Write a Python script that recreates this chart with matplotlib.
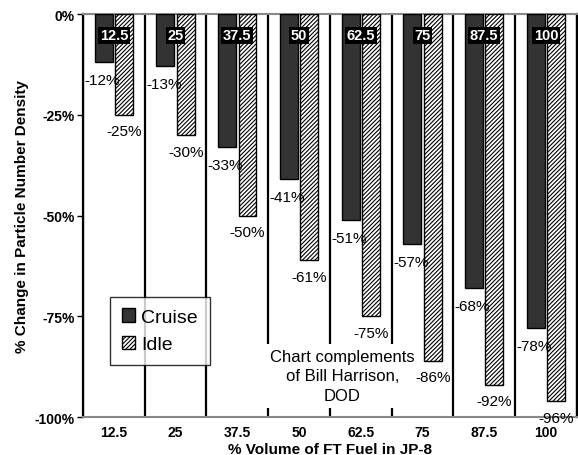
import numpy as np
import matplotlib
matplotlib.use('Agg')
import matplotlib.pyplot as plt

plt.rcParams['font.family'] = ['Liberation Sans', 'DejaVu Sans']
plt.rcParams['hatch.color'] = '#555555'
plt.rcParams['hatch.linewidth'] = 0.8

# data
categories = ['12.5', '25', '37.5', '50', '62.5', '75', '87.5', '100']
cruise = [-12, -13, -33, -41, -51, -57, -68, -78]
idle = [-25, -30, -50, -61, -75, -86, -92, -96]
yticks = [0, -25, -50, -75, -100]

fig = plt.figure(figsize=(5.78, 4.56), dpi=100)
ax = fig.add_axes([0.1436, 0.0833, 0.8544, 0.8837])

x = np.arange(len(categories))
w = 0.29
ax.bar(x - 0.165, cruise, w, color='#333333', edgecolor='black', linewidth=1, label='Cruise', zorder=3)
ax.bar(x + 0.165, idle, w, color='white', edgecolor='black', linewidth=1, hatch='////////', label='Idle', zorder=3)

# category separators
for b in np.arange(len(categories) + 1) - 0.5:
    ax.axvline(b, color='black', lw=1.6, zorder=1)

# value labels
for i in range(len(categories)):
    ax.annotate('%d%%' % cruise[i], (x[i] - 0.19, cruise[i]), xytext=(0, -13), textcoords='offset points',
                ha='center', va='center', fontsize=11, zorder=9)
    ax.annotate('%d%%' % idle[i], (x[i] + 0.165, idle[i]), xytext=(0, -12), textcoords='offset points',
                ha='center', va='center', fontsize=11, zorder=9)
    ax.text(x[i], -5.3, categories[i], ha='center', va='center', color='white', fontsize=10.5,
            fontweight='bold', zorder=6,
            bbox=dict(boxstyle='square,pad=0.12', facecolor='black', edgecolor='none'))

ax.text(3.7, -89.8, 'Chart complements\nof Bill Harrison,\nDOD', ha='center', va='center',
        fontsize=12, linespacing=1.35, zorder=7,
        bbox=dict(boxstyle='square,pad=0.3', facecolor='white', edgecolor='none'))

ax.set_xlim(-0.5, len(categories) - 0.5)
ax.set_ylim(-100, 0)
ax.set_yticks(yticks)
ax.set_yticklabels(['%d%%' % v for v in yticks], fontsize=10, fontweight='bold')
ax.set_xticks(x)
ax.set_xticklabels(categories, fontsize=10, fontweight='bold')
ax.tick_params(axis='x', length=0, pad=6)
ax.tick_params(axis='y', length=4, width=1, pad=2)

ax.spines['top'].set_color('#888888')
ax.spines['bottom'].set_color('#888888')
ax.spines['bottom'].set_linewidth(1.5)
ax.spines['top'].set_linewidth(1.5)
ax.spines['left'].set_linewidth(1.6)
ax.spines['right'].set_linewidth(1.6)

ax.set_ylabel('% Change in Particle Number Density', fontsize=11, fontweight='bold', labelpad=4)
ax.set_xlabel('% Volume of FT Fuel in JP-8', fontsize=11, fontweight='bold', labelpad=2)

leg = ax.legend(loc='lower left', bbox_to_anchor=(0.055, 0.129), borderaxespad=0, fontsize=14,
                frameon=True, fancybox=False, edgecolor='black', handlelength=0.7, handleheight=0.7,
                handletextpad=0.3, borderpad=0.6, labelspacing=0.5)
leg.get_frame().set_linewidth(1)
leg.set_zorder(8)

fig.savefig('out.png', dpi=100)
